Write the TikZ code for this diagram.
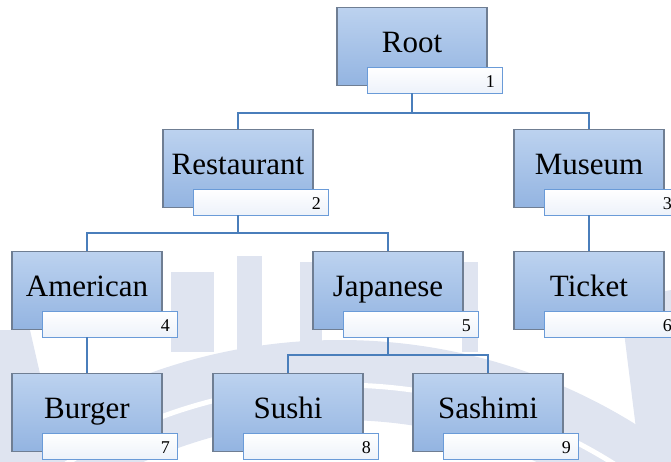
\documentclass[tikz,border=0pt]{standalone}
\usepackage{fontspec}
\setmainfont{Liberation Serif}
\usetikzlibrary{calc}
\definecolor{connc}{HTML}{4A7EBB}
\definecolor{boxtop}{HTML}{BCD2EF}
\definecolor{boxbot}{HTML}{93B4E1}
\definecolor{boxline}{HTML}{6F7E93}
\definecolor{numline}{HTML}{6A9BD8}
\definecolor{numbot}{HTML}{EDF2FA}
\definecolor{wmark}{HTML}{DFE4F0}
\tikzset{
  mainbox/.style={minimum width=150pt, minimum height=78pt, inner sep=0pt,
    draw=boxline, line width=1.2pt, top color=boxtop, bottom color=boxbot},
  numbox/.style={minimum width=135pt, minimum height=26pt, inner sep=0pt,
    draw=numline, line width=0.9pt, top color=white, bottom color=numbot},
  maintext/.style={inner sep=0pt, font=\fontsize{31}{31}\selectfont},
  numtext/.style={inner sep=0pt, font=\fontsize{18}{18}\selectfont},
  connline/.style={draw=connc, line width=2pt},
  wm/.style={fill=wmark, draw=none}
}
\newcommand\treebox[5]{%
  \node[mainbox, anchor=north] (#1) at (#2,#3) {};
  \node[maintext, anchor=base] (#1t) at (#2,#3+45) {#4};
  \node[numbox] (#1l) at (#2+22.5,#3+73) {};
  \node[numtext, anchor=base east] (#1n) at (#2+83,#3+80) {#5};
}
\begin{document}
\begin{tikzpicture}[x=1pt,y=-1pt]
\useasboundingbox (0,0) rectangle (671,461);
\clip (0,0) rectangle (671,461);
% faint watermark
\fill[wm, even odd rule] (340,900) circle[radius=560] (340,900) circle[radius=480];
\draw[white, line width=5pt] (340,900) circle[radius=515];
\fill[wm] (171,272) rectangle (214,352);
\fill[wm] (237,256) rectangle (262,352);
\fill[wm] (300,262) rectangle (322,352);
\fill[wm] (462,262) rectangle (478,352);
\fill[wm] (0,330) -- (30,330) -- (60,461) -- (0,461) -- cycle;
\fill[wm] (620,300) -- (671,290) -- (671,461) -- (640,461) -- cycle;
% boxes
\treebox{root}{412}{7}{Root}{1}
\treebox{rest}{238}{129}{Restaurant}{2}
\treebox{mus}{589}{129}{Museum}{3}
\treebox{amer}{87}{251}{American}{4}
\treebox{jap}{388}{251}{Japanese}{5}
\treebox{tick}{589}{251}{Ticket}{6}
\treebox{burg}{87}{373}{Burger}{7}
\treebox{sushi}{288}{373}{Sushi}{8}
\treebox{sash}{488}{373}{Sashimi}{9}
% connectors
\draw[connline] (rootl.south -| root.center) -- ++(0,20) -| (rest.north);
\draw[connline] (rootl.south -| root.center) ++(0,20) -| (mus.north);
\draw[connline] (restl.south -| rest.center) -- ++(0,18) -| (amer.north);
\draw[connline] (restl.south -| rest.center) ++(0,18) -| (jap.north);
\draw[connline] (japl.south -| jap.center) -- ++(0,18) -| (sushi.north);
\draw[connline] (japl.south -| jap.center) ++(0,18) -| (sash.north);
\draw[connline] (amerl.south -| amer.center) -- (burg.north);
\draw[connline] (musl.south -| mus.center) -- (tick.north);
\end{tikzpicture}
\end{document}
